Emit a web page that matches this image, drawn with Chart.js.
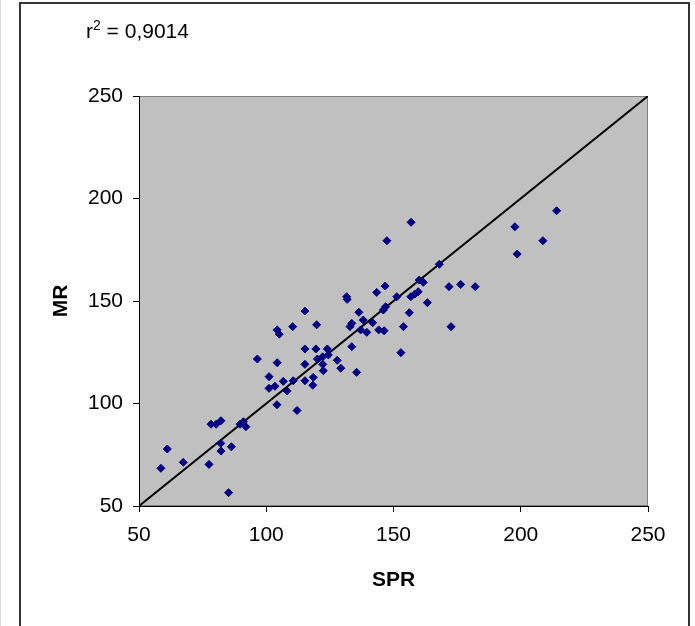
<!DOCTYPE html>
<html>
<head>
<meta charset="utf-8">
<script src="https://cdn.jsdelivr.net/npm/chart.js@4.4.1/dist/chart.umd.min.js"></script>
<style>
  html, body { margin: 0; padding: 0; background: #fff; }
  canvas { display: block; }
</style>
</head>
<body>
<canvas id="scatterChart" width="695" height="626"></canvas>
<script>
// SPR vs MR values
const sprValues = [61.1, 58.6, 67.4, 77.5, 85.2, 82.1, 82.2, 86.3, 78.3, 80.3,
  82.2, 89.7, 91.0, 92.0, 104.2, 112.1, 101.1, 103.4, 108.2, 106.7,
  96.5, 104.3, 101.1, 110.6, 115.2, 118.5, 118.3, 115.2, 115.2, 119.5,
  124.0, 120.1, 122.2, 124.4, 122.2, 122.4, 127.9, 129.3, 135.5, 133.6,
  104.3, 105.1, 110.4, 115.2, 119.8, 131.6, 131.8, 132.9, 133.6, 136.4,
  138.1, 137.1, 139.5, 141.8, 144.2, 146.3, 146.0, 146.9, 143.4, 146.7,
  151.3, 152.9, 156.9, 147.4, 168.0, 160.1, 161.7, 156.8, 158.4, 159.7,
  163.3, 156.2, 153.9, 171.8, 176.4, 182.1, 172.6, 197.7, 198.6, 208.7, 214.1];
const mrValues = [77.8, 68.4, 71.3, 70.3, 56.5, 80.6, 76.8, 78.9, 89.9, 89.9,
  91.6, 89.9, 91.1, 88.7, 99.4, 96.6, 107.4, 108.4, 106.1, 110.8,
  121.7, 119.9, 113.1, 111.1, 111.1, 112.8, 108.9, 119.1, 126.6, 126.6,
  126.6, 121.7, 122.8, 123.7, 119.1, 116.0, 121.1, 117.2, 115.2, 127.7,
  135.9, 133.8, 137.5, 145.1, 138.4, 152.1, 150.8, 137.5, 139.1, 144.5,
  140.7, 135.9, 134.7, 139.4, 135.9, 135.5, 145.6, 147.2, 154.2, 157.3,
  152.1, 124.8, 188.4, 179.4, 167.9, 160.2, 159.1, 152.1, 153.4, 154.5,
  149.2, 144.3, 137.5, 157.0, 158.1, 157.0, 137.5, 186.2, 172.9, 179.4, 194.0];
// line of identity
const identityLine = [50, 250];
const axisMin = 50;
const axisMax = 250;
const axisStep = 50;

const points = sprValues.map((v, i) => ({ x: v, y: mrValues[i] }));
const linePoints = identityLine.map(v => ({ x: v, y: v }));

const fontFamily = "'Liberation Sans', Arial, sans-serif";
const fontSize = 21;

// frame, plot background and r² label
const decorations = {
  id: 'decorations',
  beforeDraw(chart) {
    const { ctx, chartArea: a } = chart;
    ctx.save();
    ctx.fillStyle = '#ffffff';
    ctx.fillRect(0, 0, chart.width, chart.height);
    // outer frame
    ctx.strokeStyle = '#d9d9d9';
    ctx.lineWidth = 1;
    ctx.beginPath();
    ctx.moveTo(0.5, 0);
    ctx.lineTo(0.5, chart.height);
    ctx.stroke();
    ctx.strokeStyle = '#333333';
    ctx.lineWidth = 2;
    ctx.beginPath();
    ctx.moveTo(20, chart.height + 5);
    ctx.lineTo(20, 3);
    ctx.lineTo(689, 3);
    ctx.lineTo(689, chart.height + 5);
    ctx.stroke();
    // plot area
    ctx.fillStyle = '#c0c0c0';
    ctx.fillRect(a.left, a.top, a.right - a.left, a.bottom - a.top);
    ctx.strokeStyle = '#808080';
    ctx.lineWidth = 1;
    ctx.strokeRect(a.left + 0.5, a.top + 0.5, a.right - a.left - 1, a.bottom - a.top - 1);
    // r² label
    ctx.fillStyle = '#000';
    ctx.textBaseline = 'alphabetic';
    ctx.font = fontSize + 'px ' + fontFamily;
    let x = 86;
    const y = 38;
    ctx.fillText('r', x, y);
    x += ctx.measureText('r').width;
    ctx.font = '14px ' + fontFamily;
    ctx.fillText('2', x, y - 8);
    x += ctx.measureText('2').width;
    ctx.font = fontSize + 'px ' + fontFamily;
    ctx.fillText(' = 0,9014', x, y);
    ctx.restore();
  }
};

const config = {
  type: 'scatter',
  data: {
    datasets: [
      {
        label: 'MR',
        data: points,
        pointStyle: 'rectRot',
        pointRadius: 4,
        borderWidth: 1,
        backgroundColor: '#000080',
        borderColor: '#000080',
        order: 1
      },
      {
        type: 'line',
        label: 'identity',
        data: linePoints,
        borderColor: '#000000',
        borderWidth: 2,
        pointRadius: 0,
        fill: false,
        order: 2
      }
    ]
  },
  options: {
    responsive: false,
    animation: false,
    devicePixelRatio: 1,
    layout: {
      padding: { left: 20, top: 96, right: 47, bottom: 0 }
    },
    plugins: {
      legend: { display: false },
      tooltip: { enabled: false }
    },
    scales: {
      x: {
        type: 'linear',
        min: axisMin,
        max: axisMax,
        afterFit: scale => { scale.height = 120; },
        ticks: {
          stepSize: axisStep,
          color: '#000',
          padding: 11,
          font: { family: fontFamily, size: fontSize }
        },
        grid: { drawOnChartArea: false, drawTicks: true, tickLength: 6, color: '#000' },
        border: { display: true, color: '#000', width: 1 },
        title: {
          display: true,
          text: 'SPR',
          color: '#000',
          padding: { top: 0, bottom: 33 },
          font: { family: fontFamily, size: fontSize, weight: 'bold' }
        }
      },
      y: {
        type: 'linear',
        min: axisMin,
        max: axisMax,
        afterFit: scale => { scale.width = 119; },
        ticks: {
          stepSize: axisStep,
          color: '#000',
          padding: 10,
          font: { family: fontFamily, size: fontSize }
        },
        grid: { drawOnChartArea: false, drawTicks: true, tickLength: 6, color: '#000' },
        border: { display: true, color: '#000', width: 1 },
        title: {
          display: true,
          text: 'MR',
          color: '#000',
          padding: { top: 29, bottom: 0 },
          font: { family: fontFamily, size: fontSize, weight: 'bold' }
        }
      }
    }
  },
  plugins: [decorations]
};

const scatterChart = new Chart(document.getElementById('scatterChart'), config);
</script>
</body>
</html>
